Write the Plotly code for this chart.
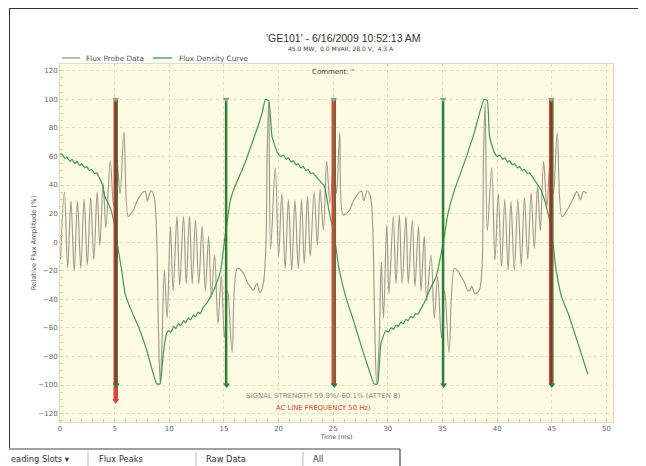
import plotly.graph_objects as go

# ---------------- data ----------------
probe_t = [0.05, 0.4, 0.7, 1.0, 1.3, 1.6, 1.9, 2.2, 2.5, 2.8, 3.1, 3.4, 3.65, 3.95, 4.2, 4.6, 4.9, 5.2, 5.5, 5.85,
           6.25, 6.5, 6.7, 7.0, 7.3, 7.6, 7.8, 8.0, 8.2, 8.35, 8.6, 8.8, 9.0, 9.17,
           9.33, 9.55, 9.8, 10.1, 10.35, 10.7, 10.95, 11.3, 11.55, 11.85, 12.1, 12.4, 12.7, 13.0, 13.3, 13.6, 13.85,
           14.15, 14.45, 14.75, 15.05, 15.35, 15.75, 16.2, 16.5, 16.8, 17.2, 17.5, 17.7, 18.0, 18.3, 18.6, 18.85,
           18.95, 19.1, 19.27, 19.7, 20.0, 20.3, 20.6, 20.9, 21.2, 21.5, 21.8, 22.1, 22.35, 22.65, 22.9, 23.25, 23.55,
           23.8, 24.1, 24.4, 24.7, 25.05, 25.3, 25.6, 25.9, 26.2, 26.5, 26.8, 27.1, 27.4, 27.6, 27.8, 28.1, 28.4,
           28.6, 28.8, 28.97, 29.2, 29.4, 29.6, 29.9, 30.1, 30.5, 30.74, 31.05, 31.3, 31.66, 31.87, 32.23, 32.48,
           32.8, 33.03, 33.33, 33.55, 33.95, 34.25, 34.55, 34.9, 35.2, 35.6, 36.1, 36.4, 36.7, 37.05, 37.3, 37.5,
           37.66, 37.97, 38.36, 38.6, 38.75, 38.9, 39.1, 39.5, 39.8, 40.1, 40.4, 40.7, 41.0, 41.26, 41.57, 41.9,
           42.2, 42.5, 42.8, 43.1, 43.4, 43.7, 43.95, 44.25, 44.55, 44.85, 45.15, 45.5, 45.95, 46.4, 46.9, 47.3,
           47.6, 47.9, 48.2]
probe_v = [-12, 35, -18, 29, -20, 29, -18, 30, -16, 31, -12, 35, -2, 41, 10, 57, 25, 58, 34, 77,
           18, 20, 22, 28, 32, 35, 35.5, 29, 34, 36, 32, 14, -57, -99,
           -71, -20, -53, 11, -34, 18, -30, 18, -29, 18, -29, 15.5, -29, 11, -34, 4, -38.5,
           -9, -57, -24, -67, -34, -77, -18.5, -19, -22, -29, -32, -33.6, -29, -35.4, -29, 1.5,
           60, 98, -5, 52, -10, 34, -18.5, 29.6, -19.7, 29.6, -18.5, 29.6, -15, 32, -10, 35.4, -2,
           37, 8.5, 56.5, 27, 58, 34, 76.5, 19, 20, 22.5, 28, 32, 35, 35.4, 29, 36, 32,
           13, -57, -99, -71, -14, -53, 12, -36, 18, -29, 19, -29, 18, -29, 15.5, -31,
           11, -34, 4, -41, -9, -53, -24, -67, -34, -77, -18.5, -20, -24, -29, -33.5, -34,
           -31, -36, -33.5, -19.5, 60, 97, 8, 52, -12.6, 34, -17, 29.6, -19.7, 28.4, -19.7, 29.6,
           -16.4, 31, -12, 34.5, -4.5, 39, 8, 56.5, 25, 58, 34, 76.5, 17.8, 22.5, 29.6, 35.4,
           29.6, 35.4, 34]

density_t = [0, 0.25, 0.45, 0.65, 0.9, 1.1, 1.35, 1.55, 1.8, 2.0, 2.25, 2.45, 2.7, 2.9, 3.15, 3.35, 3.6, 3.85,
             4.1, 4.55, 4.95, 5.3, 5.65, 5.95, 6.4, 7.2, 7.95, 8.55, 8.85, 9.15, 9.45, 9.75, 9.95, 10.15, 10.4,
             10.6, 10.85, 11.05, 11.3, 11.5, 11.75, 11.95, 12.2, 12.4, 12.65, 12.85, 13.1, 13.4, 13.76, 14.2,
             14.7, 15.1, 15.6, 16.06, 16.8, 17.7, 18.5, 18.8, 19.1, 19.4, 19.9, 20.2, 20.45, 20.7, 20.9, 21.15,
             21.35, 21.6, 21.8, 22.05, 22.25, 22.5, 22.7, 22.95, 23.15, 23.55, 24.2, 24.6, 25.07, 25.5, 26.15,
             26.76, 27.5, 28.3, 28.75, 29.05, 29.36, 29.8, 30.05, 30.3, 30.5, 30.75, 30.95, 31.2, 31.4, 31.65,
             31.85, 32.1, 32.3, 32.55, 32.75, 33.0, 33.3, 33.8, 34.4, 35.0, 35.5, 36.1, 37.2, 37.9, 38.8, 39.1,
             39.3, 39.75, 40.0, 40.25, 40.5, 40.7, 40.95, 41.15, 41.4, 41.6, 41.85, 42.05, 42.3, 42.5, 42.75,
             42.95, 43.4, 44.0, 44.5, 44.95, 45.4, 45.9, 46.5, 47.4, 48.3]
density_v = [62, 61, 58.5, 59.5, 56.5, 58, 55, 56.5, 53.5, 55, 52, 53, 50, 51, 48, 48.5, 45, 41,
             32, 25, 14, -4, -20, -36, -45.5, -59.6, -76, -92.5, -99.3, -99.3, -78, -64, -62, -63, -59,
             -60.5, -57, -58.5, -55, -56.5, -53, -54.5, -51, -52, -49, -50, -45.5, -43, -38.5, -31.5,
             -19.7, 4, 29.6, 40, 53, 72, 90.6, 100, 99, 74, 62.5, 60, 61, 58, 59, 56,
             57, 54, 55, 52, 53, 50, 51, 48, 48.5, 44.8, 39, 22.5, 6, -17.4, -38.5,
             -52.6, -71, -90, -99.3, -99.3, -71, -62, -63, -60, -61, -58, -59, -56, -57, -54,
             -55, -52, -53, -50, -50.5, -47, -43, -34, -24.4, -3.3, 20, 36.6, 60, 76.5, 100, 99,
             74, 62.5, 60, 61, 58, 59, 56, 57, 54, 55, 52, 53, 50, 51, 48,
             48.5, 43.7, 36.6, 25, 8.5, -19.7, -38.5, -50, -71, -92.5]

pos_peak_t = [5.1, 25.05, 44.95]
pos_peak_bottom = [-111, -100, -100]
neg_peak_t = [15.2, 35.05]
peak_top = 100
peak_bottom = -100

x_ticks = [0, 5, 10, 15, 20, 25, 30, 35, 40, 45, 50]
y_ticks = [-120, -100, -80, -60, -40, -20, 0, 20, 40, 60, 80, 100, 120]

title_text = "'GE101' - 6/16/2009 10:52:13 AM"
subtitle_text = "45.0 MW,  0.0 MVAR, 28.0 V,  4.3 A"
comment_text = 'Comment: "'
signal_text = "SIGNAL STRENGTH 59.9%/-60.1% (ATTEN 8)"
freq_text = "AC LINE FREQUENCY 50 Hz)"
tabs = ["eading Slots \u25BE", "Flux Peaks", "Raw Data", "All"]

# ---------------- figure ----------------
# the page body adds an 8 px offset, so layout is expressed in window pixels
OX, OY = 8, 8
W, H = 646 - OX, 466 - OY
PL, PR, PT, PB = 60, 613, 64, 422          # plot area in window pixels
L, R, T, B = PL - OX, W - (PR - OX), PT - OY, H - (PB - OY)
PW, PH = PR - PL, PB - PT


def px(x):
    return (x - PL) / PW


def py(y):
    return (PB - y) / PH


GREY = "#a09a8d"
GREEN = "#3f9a50"
DGREEN = "#2d7d3c"
RED = "#d8473a"
BROWN = "#8a3a2a"
FONT = "DejaVu Sans"

fig = go.Figure()

probe = go.Scatter(x=probe_t, y=probe_v, mode="lines", name="Flux Probe Data", showlegend=False,
                   line=dict(color=GREY, width=1.15, shape="spline", smoothing=1.0))
density = go.Scatter(x=density_t, y=density_v, mode="lines", name="Flux Density Curve", showlegend=False,
                     line=dict(color=GREEN, width=1.2, shape="spline", smoothing=0.4))
fig.add_trace(probe)
fig.add_trace(density)

# positive peak markers (red)
for i, (t, b) in enumerate(zip(pos_peak_t, pos_peak_bottom)):
    fig.add_trace(go.Scatter(x=[t, t], y=[peak_top, b], mode="lines", showlegend=False,
                             line=dict(color=RED, width=4.5), hoverinfo="skip"))
    if i != 1:
        fig.add_trace(go.Scatter(x=[t, t], y=[peak_top, peak_bottom], mode="lines", showlegend=False,
                                 line=dict(color=BROWN, width=2.5), hoverinfo="skip"))
    fig.add_trace(go.Scatter(x=[t + 0.12, t + 0.12], y=[peak_top, peak_bottom], mode="lines",
                             showlegend=False, line=dict(color=DGREEN, width=1.2), hoverinfo="skip"))
    if b < peak_bottom:
        fig.add_trace(go.Scatter(x=[t], y=[b], mode="markers", showlegend=False, hoverinfo="skip",
                                 marker=dict(symbol="triangle-down", size=6, color=RED)))

# negative peak markers (green)
fig.add_trace(go.Scatter(
    x=[v for t in neg_peak_t for v in (t, t, None)],
    y=[v for t in neg_peak_t for v in (peak_top, peak_bottom, None)],
    mode="lines", showlegend=False, hoverinfo="skip", line=dict(color=DGREEN, width=2.5)))

all_peaks = pos_peak_t + neg_peak_t
fig.add_trace(go.Scatter(x=all_peaks, y=[peak_top] * len(all_peaks), mode="markers", showlegend=False,
                         hoverinfo="skip", marker=dict(symbol="triangle-down", size=6, color="#8fa08a")))
fig.add_trace(go.Scatter(x=[t + 0.05 for t in all_peaks], y=[peak_bottom] * len(all_peaks), mode="markers",
                         showlegend=False, hoverinfo="skip",
                         marker=dict(symbol="triangle-down", size=6, color=DGREEN)))

ann = []


def text(t, x, y, size, color, anchor="center", family=FONT):
    ann.append(dict(text=t, x=px(x), y=py(y), xref="paper", yref="paper", showarrow=False,
                    font=dict(family=family, size=size, color=color), xanchor=anchor, yanchor="middle"))


text(title_text, 343, 38, 10.5, "#333333", family="Liberation Sans")
text(subtitle_text, 341, 48, 6.0, "#444444")
text(comment_text, 333, 72, 7.0, "#444444")
text(signal_text, 323, 396, 7.0, "#8c8c8c")
text(freq_text, 323, 408, 6.8, "#e0402f")

shapes = []


def hline(x0, x1, y, color, width):
    shapes.append(dict(type="line", xref="paper", yref="paper", x0=px(x0), x1=px(x1), y0=py(y), y1=py(y),
                       line=dict(color=color, width=width)))


def vline(x, y0, y1, color, width):
    shapes.append(dict(type="line", xref="paper", yref="paper", x0=px(x), x1=px(x), y0=py(y0), y1=py(y1),
                       line=dict(color=color, width=width)))


# legend drawn by hand (short line samples like the original)
hline(62, 80, 58, GREY, 1.3)
text(probe.name, 84, 58, 7.3, "#555555", anchor="left")
hline(153, 172, 58, GREEN, 1.3)
text(density.name, 177, 58, 7.3, "#555555", anchor="left")

# outer frame
frame_col = "#333333"
hline(9, 641, 8.5, frame_col, 1)
vline(641, 8.5, 445, frame_col, 1)
vline(9.5, 8.5, 448, frame_col, 1)

# tab strip
hline(9, 400, 449, "#444444", 1.2)
vline(400, 449, 466, "#444444", 1.2)
for sx in (88, 196, 303):
    vline(sx, 452, 466, "#bbbbbb", 1)
tab_x = [9, 97, 204, 311]
for tx, tt in zip(tab_x, tabs):
    text(tt, tx, 459, 8.3, "#333333", anchor="left")

grid_col = "#e0ddc2"
fig.update_layout(
    width=W, height=H,
    margin=dict(l=L, r=R, t=T, b=B, autoexpand=False),
    paper_bgcolor="white",
    plot_bgcolor="#fdfbe1",
    font=dict(family=FONT, size=7, color="#555555"),
    showlegend=False,
    annotations=ann,
    shapes=shapes,
    xaxis=dict(range=[0, 50.6], tickvals=x_ticks, showgrid=True, gridcolor=grid_col, griddash="dot",
               gridwidth=1, zeroline=False, showline=True, linecolor=grid_col, mirror=True,
               ticks="", tickfont=dict(size=7, color="#666666"),
               minor=dict(dtick=1, ticks="inside", ticklen=3, tickcolor="#d3cfb3", showgrid=False),
               title=dict(text="Time (ms)", font=dict(size=6.3, color="#555555"), standoff=0)),
    yaxis=dict(range=[-125.9, 124.7], tickvals=y_ticks, showgrid=True, gridcolor=grid_col, griddash="dot",
               gridwidth=1, zeroline=False, showline=True, linecolor=grid_col, mirror=True,
               ticks="", tickfont=dict(size=7, color="#666666"),
               minor=dict(dtick=5, ticks="inside", ticklen=3, tickcolor="#d3cfb3", showgrid=False),
               title=dict(text="Relative Flux Amplitude (%)", font=dict(size=6.8, color="#555555"), standoff=0)),
)

fig.write_html("out.html")
